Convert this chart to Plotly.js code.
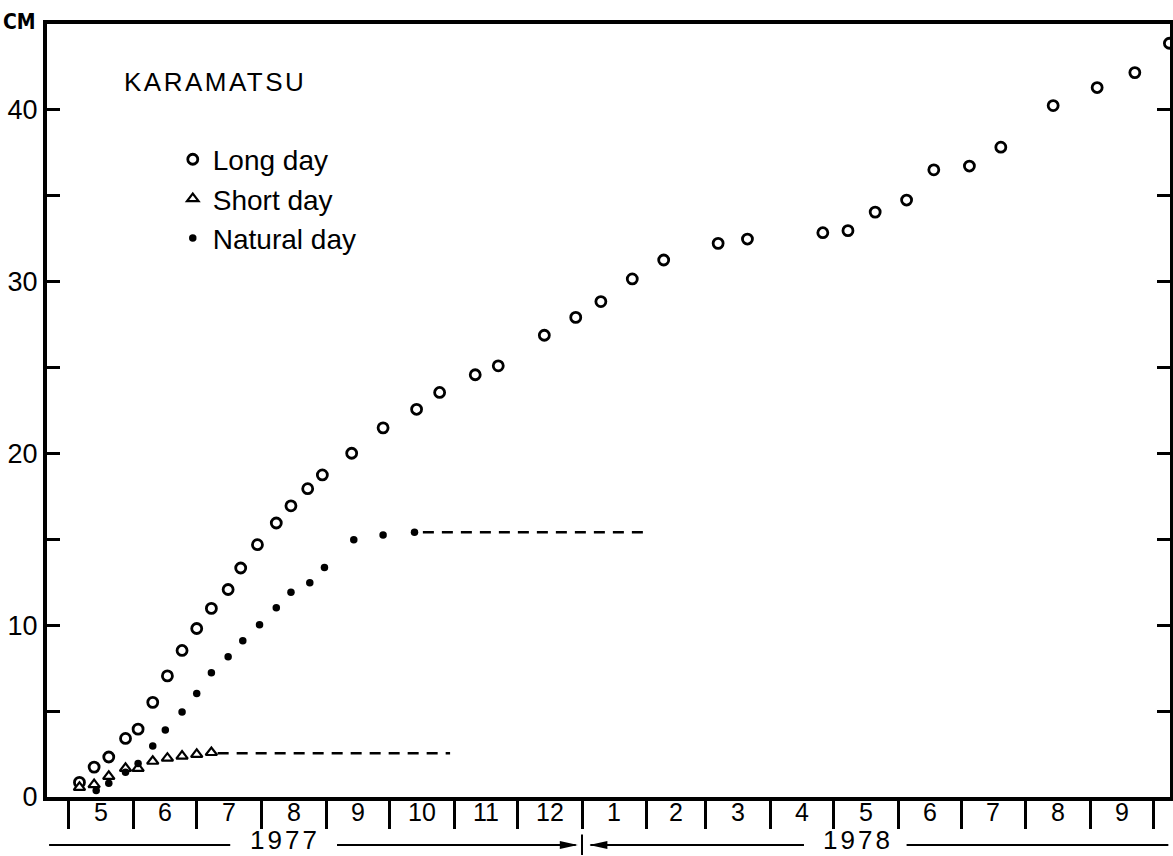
<!DOCTYPE html>
<html><head><meta charset="utf-8">
<script src="https://cdn.plot.ly/plotly-3.0.1.min.js"></script>
<style>html,body{margin:0;padding:0;background:#fff}#chart{width:1173px;height:856px}</style>
</head><body><div id="chart"></div>
<script>
// ---- data ----
const longDayDates = ['1977-05-06','1977-05-13','1977-05-20','1977-05-28','1977-06-03','1977-06-10','1977-06-17','1977-06-24','1977-07-01','1977-07-08','1977-07-16','1977-07-22','1977-07-30','1977-08-08','1977-08-15','1977-08-23','1977-08-30','1977-09-13','1977-09-28','1977-10-14','1977-10-25','1977-11-11','1977-11-22','1977-12-14','1977-12-29','1978-01-10','1978-01-25','1978-02-09','1978-03-07','1978-03-21','1978-04-26','1978-05-08','1978-05-21','1978-06-05','1978-06-18','1978-07-05','1978-07-20','1978-08-14','1978-09-04','1978-09-22','1978-10-08 12:00'];
const longDayHeights = [0.85,1.74,2.33,3.41,3.95,5.51,7.05,8.53,9.81,10.98,12.08,13.33,14.69,15.95,16.95,17.95,18.75,20.01,21.49,22.57,23.55,24.58,25.10,26.88,27.92,28.84,30.16,31.26,32.23,32.48,32.85,32.97,34.05,34.75,36.51,36.73,37.83,40.25,41.30,42.17,43.88];

const shortDayDates = ['1977-05-06','1977-05-13','1977-05-20','1977-05-28','1977-06-03','1977-06-10','1977-06-17','1977-06-24','1977-07-01','1977-07-08'];
const shortDayHeights = [0.56,0.72,1.20,1.67,1.67,2.08,2.26,2.38,2.48,2.59];

const naturalDayDates = ['1977-05-14','1977-05-20','1977-05-28','1977-06-03','1977-06-10','1977-06-16','1977-06-24','1977-07-01','1977-07-08','1977-07-16','1977-07-23','1977-07-31','1977-08-08','1977-08-15','1977-08-24','1977-08-31','1977-09-14','1977-09-28','1977-10-13'];
const naturalDayHeights = [0.38,0.80,1.44,1.95,2.97,3.90,4.95,6.03,7.23,8.17,9.09,10.03,11.02,11.92,12.47,13.36,14.98,15.25,15.41];

const shortPlateauDates = ['1977-07-11','1977-10-30'];
const shortPlateauHeights = [2.54,2.54];
const naturalPlateauDates = ['1977-10-17','1978-02-02 12:00'];
const naturalPlateauHeights = [15.41,15.41];

const monthBoundaries = ['1977-05-01','1977-06-01','1977-07-01','1977-08-01','1977-09-01','1977-10-01','1977-11-01','1977-12-01','1978-01-01','1978-02-01','1978-03-01','1978-04-01','1978-05-01','1978-06-01','1978-07-01','1978-08-01','1978-09-01','1978-10-01'];
const monthLabels = ['5','6','7','8','9','10','11','12','1','2','3','4','5','6','7','8','9'];
const yTickVals = [0,5,10,15,20,25,30,35,40];
const yTickText = ['0','','10','','20','','30','','40'];
const yearLabels = ['1977','1978'];
const yearLabelDates = ['1977-08-12','1978-05-13'];

// ---- chart ----
const FONT = 'Liberation Sans, Arial, Helvetica, sans-serif';
function midDate(a, b) {
  const t = (Date.parse(a + 'T00:00:00Z') + Date.parse(b + 'T00:00:00Z')) / 2;
  return new Date(t).toISOString().slice(0, 19).replace('T', ' ');
}

const traces = [
  {type:'scatter', mode:'lines', x:shortPlateauDates, y:shortPlateauHeights, showlegend:false, hoverinfo:'skip',
   line:{color:'black', width:2.5, dash:'11px,8px'}},
  {type:'scatter', mode:'lines', x:naturalPlateauDates, y:naturalPlateauHeights, showlegend:false, hoverinfo:'skip',
   line:{color:'black', width:2.5, dash:'11px,8px'}},
  {type:'scatter', mode:'markers', name:'Long day', x:longDayDates, y:longDayHeights, cliponaxis:false,
   marker:{symbol:'circle', size:10, color:'white', line:{color:'black', width:2.8}}},
  {type:'scatter', mode:'markers', name:'Short day', x:shortDayDates, y:shortDayHeights, cliponaxis:false,
   marker:{symbol:'triangle-up', size:10, color:'white', line:{color:'black', width:2.2}}},
  {type:'scatter', mode:'markers', name:'Natural day', x:naturalDayDates, y:naturalDayHeights, cliponaxis:false,
   marker:{symbol:'circle', size:7.5, color:'black', line:{width:0}}}
];

const yearY = -0.0621;
const annotations = [];
for (let i = 0; i < monthLabels.length; i++) {
  annotations.push({xref:'x', yref:'paper', x:midDate(monthBoundaries[i], monthBoundaries[i+1]), y:0,
    yanchor:'middle', xanchor:'center', yshift:-14.5, borderpad:0, showarrow:false, text:monthLabels[i],
    font:{family:FONT, size:25, color:'black'}});
}
for (let i = 0; i < yearLabels.length; i++) {
  annotations.push({xref:'x', yref:'paper', x:yearLabelDates[i], y:-0.0763, yanchor:'bottom', xanchor:'center',
    borderpad:0, showarrow:false, text:'<span style="letter-spacing:3px">' + yearLabels[i] + '</span>',
    font:{family:FONT, size:26, color:'black'}});
}
annotations.push({xref:'paper', yref:'paper', x:0, y:1, xanchor:'right', yanchor:'middle', xshift:-9, yshift:2,
  showarrow:false, text:'<b>CM</b>', font:{family:'Liberation Sans Narrow, DejaVu Sans Condensed, Arial Narrow, sans-serif', size:21, color:'black'}});
annotations.push({xref:'paper', yref:'paper', x:0.0668, y:0.925, xanchor:'left', yanchor:'middle',
  showarrow:false, text:'<span style="letter-spacing:2.5px">KARAMATSU</span>', font:{family:FONT, size:26, color:'black'}});

const ln = {color:'black', width:2};
const shapes = [
  {type:'line', xref:'x', yref:'paper', x0:'1977-04-21 12:00', x1:'1977-07-17', y0:yearY, y1:yearY, line:ln},
  {type:'line', xref:'x', yref:'paper', x0:'1977-09-06', x1:'1977-12-29', y0:yearY, y1:yearY, line:ln},
  {type:'path', xref:'x', yref:'paper', xsizemode:'pixel', ysizemode:'pixel', xanchor:'1977-12-30', yanchor:yearY,
   path:'M0,0L-18,-4L-18,4Z', fillcolor:'black', line:{width:0}},
  {type:'line', xref:'x', yref:'paper', x0:'1978-01-01', x1:'1978-01-01', y0:-0.0485, y1:-0.0750, line:ln},
  {type:'path', xref:'x', yref:'paper', xsizemode:'pixel', ysizemode:'pixel', xanchor:'1978-01-04 12:00', yanchor:yearY,
   path:'M0,0L18,-4L18,4Z', fillcolor:'black', line:{width:0}},
  {type:'line', xref:'x', yref:'paper', x0:'1978-01-05', x1:'1978-04-17', y0:yearY, y1:yearY, line:ln},
  {type:'line', xref:'x', yref:'paper', x0:'1978-06-05', x1:'1978-10-08', y0:yearY, y1:yearY, line:ln}
];

const layout = {
  width:1173, height:856,
  margin:{l:47, r:3, t:24, b:59},
  paper_bgcolor:'white', plot_bgcolor:'white',
  font:{family:FONT, color:'black', size:26},
  showlegend:true,
  legend:{x:0.112, y:0.857, xanchor:'left', yanchor:'top', bgcolor:'rgba(0,0,0,0)', borderwidth:0,
    font:{family:FONT, size:28, color:'black'}},
  xaxis:{type:'date', range:['1977-04-20 12:00','1978-10-08 19:00'], showgrid:false, zeroline:false,
    showline:true, linecolor:'black', linewidth:4, mirror:true,
    ticks:'outside', tickmode:'array', tickvals:monthBoundaries, ticklen:28, tickwidth:3, tickcolor:'black',
    showticklabels:false},
  yaxis:{range:[0,45], showgrid:false, zeroline:false, showline:true, linecolor:'black', linewidth:4,
    mirror:'ticks', ticks:'inside', ticklen:13, tickwidth:3, tickcolor:'black',
    tickmode:'array', tickvals:yTickVals, ticktext:yTickText, tickfont:{family:FONT, size:27, color:'black'}},
  annotations:annotations,
  shapes:shapes
};

Plotly.newPlot('chart', traces, layout, {displayModeBar:false, staticPlot:true});
</script>
</body></html>
